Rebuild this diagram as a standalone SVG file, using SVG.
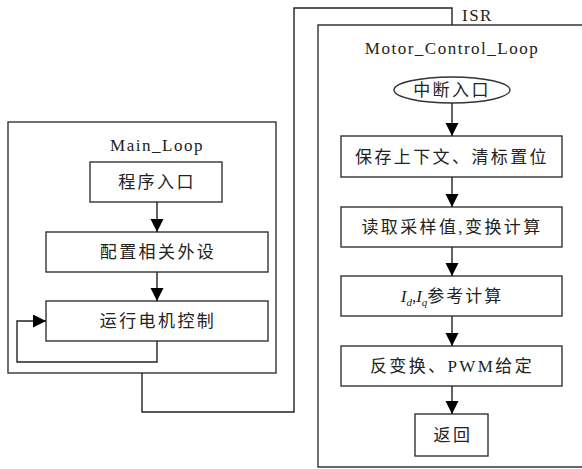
<svg xmlns="http://www.w3.org/2000/svg" width="582" height="469" viewBox="0 0 582 469">
<defs>
<marker id="ah" markerUnits="userSpaceOnUse" markerWidth="14" markerHeight="14" refX="13" refY="6.5" orient="auto">
<path d="M0,0 L13,6.5 L0,13 Z" fill="#000"/>
</marker>
<style>
.b{fill:#fff;stroke:#333;stroke-width:1.4}
.c{fill:none;stroke:#333;stroke-width:1.4}
.cn{fill:none;stroke:#222;stroke-width:1.4}
.t{font-family:"Liberation Serif","Noto Sans CJK SC",serif;font-size:17px;fill:#222;text-anchor:middle;letter-spacing:2.4px}
.l{font-family:"Liberation Serif","Noto Sans CJK SC",serif;font-size:17px;fill:#222;letter-spacing:1.5px}
</style>
</defs>
<rect width="582" height="469" fill="#fff"/>
<g id="main_loop">
<rect class="c" x="8" y="122" width="268" height="251"/>
<text class="l" x="157" y="151" text-anchor="middle">Main_Loop</text>
</g>
<g id="motor_control_loop">
<path class="c" d="M582,25 L318,25 L318,467 L582,467"/>
<text class="l" x="452" y="54" text-anchor="middle">Motor_Control_Loop</text>
</g>
<g id="n_entry">
<rect class="b" x="90" y="162" width="132" height="40"/>
<text class="t" x="157" y="188">程序入口</text>
</g>
<g id="n_config">
<rect class="b" x="46" y="232" width="222" height="40"/>
<text class="t" x="158" y="258">配置相关外设</text>
</g>
<g id="n_run">
<rect class="b" x="46" y="301" width="222" height="40"/>
<text class="t" x="158" y="327">运行电机控制</text>
</g>
<g id="n_isr_entry">
<ellipse class="b" cx="452" cy="90" rx="58" ry="13"/>
<text class="t" x="452" y="96">中断入口</text>
</g>
<g id="n_save">
<rect class="b" x="341" y="136" width="221" height="41"/>
<text class="t" x="452" y="163">保存上下文、清标置位</text>
</g>
<g id="n_read">
<rect class="b" x="341" y="207" width="221" height="40"/>
<text class="t" x="452" y="233">读取采样值,变换计算</text>
</g>
<g id="n_ref">
<rect class="b" x="341" y="276" width="221" height="40"/>
<text class="t" x="452" y="302" style="letter-spacing:2px"><tspan font-style="italic" style="letter-spacing:0">I</tspan><tspan font-size="11" font-style="italic" dy="4" style="letter-spacing:0">d</tspan><tspan dy="-4" style="letter-spacing:0">,</tspan><tspan font-style="italic" style="letter-spacing:0">I</tspan><tspan font-size="11" font-style="italic" dy="4" style="letter-spacing:0">q</tspan><tspan dy="-4">参考计算</tspan></text>
</g>
<g id="n_inv">
<rect class="b" x="341" y="346" width="221" height="40"/>
<text class="t" x="452" y="372">反变换、PWM给定</text>
</g>
<g id="n_ret">
<rect class="b" x="415" y="414" width="73" height="42"/>
<text class="t" x="453" y="441">返回</text>
</g>
<g id="connectors">
<line class="cn" x1="157" y1="202" x2="157" y2="232" marker-end="url(#ah)"/>
<line class="cn" x1="157" y1="272" x2="157" y2="301" marker-end="url(#ah)"/>
<path class="cn" d="M157,341 L157,362 L17,362 L17,321 L46,321" marker-end="url(#ah)"/>
<path class="cn" d="M142,373 L142,412 L294,412 L294,8 L452,8 L452,25"/>
<text class="l" x="462" y="21">ISR</text>
<line class="cn" x1="452" y1="103" x2="452" y2="136" marker-end="url(#ah)"/>
<line class="cn" x1="452" y1="177" x2="452" y2="207" marker-end="url(#ah)"/>
<line class="cn" x1="452" y1="247" x2="452" y2="276" marker-end="url(#ah)"/>
<line class="cn" x1="452" y1="316" x2="452" y2="346" marker-end="url(#ah)"/>
<line class="cn" x1="452" y1="386" x2="452" y2="414" marker-end="url(#ah)"/>
</g>
</svg>
